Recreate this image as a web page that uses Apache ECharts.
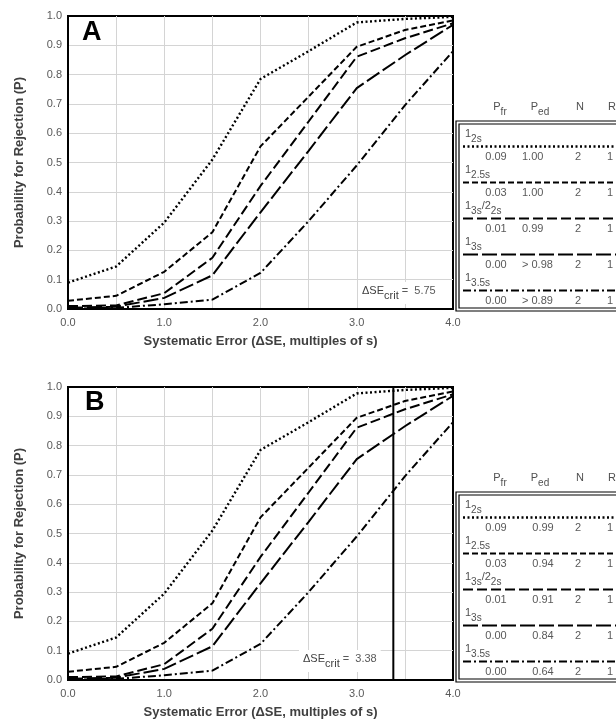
<!DOCTYPE html>
<html><head><meta charset="utf-8">
<script src="https://cdn.jsdelivr.net/npm/echarts@6/dist/echarts.min.js"></script>
<style>html,body{margin:0;padding:0;background:#fff}#chart{width:616px;height:721px}</style>
</head><body><div id="chart"></div>
<script>
// ---- data ----
const xValues  = [0, 0.5, 1.0, 1.5, 2.0, 2.5, 3.0, 3.5, 4.0];
const p12s     = [0.090, 0.145, 0.295, 0.510, 0.785, 0.880, 0.978, 0.990, 0.997];
const p125s    = [0.028, 0.045, 0.127, 0.262, 0.555, 0.725, 0.895, 0.952, 0.985];
const p13s22s  = [0.010, 0.012, 0.054, 0.175, 0.420, 0.640, 0.861, 0.924, 0.975];
const p13s     = [0.004, 0.008, 0.038, 0.115, 0.330, 0.540, 0.754, 0.866, 0.970];
const p135s    = [0.001, 0.004, 0.016, 0.032, 0.123, 0.300, 0.490, 0.695, 0.880];
const ruleLabels = ['{m|1}{s|2s}', '{m|1}{s|2.5s}', '{m|1}{s|3s}{m|/2}{s|2s}', '{m|1}{s|3s}', '{m|1}{s|3.5s}'];
const pfrValues = ['0.09', '0.03', '0.01', '0.00', '0.00'];
const pedA      = ['1.00', '1.00', '0.99', '> 0.98', '> 0.89'];
const pedB      = ['0.99', '0.94', '0.91', '0.84', '0.64'];
const nValues   = ['2', '2', '2', '2', '2'];
const rValues   = ['1', '1', '1', '1', '1'];
const headerLabels = ['{m|P}{s|fr}', '{m|P}{s|ed}', '{m|N}', '{m|R}'];
const panelLetters = ['A', 'B'];
const critValues = ['5.75', '3.38'];
const critLineB = 3.38;
const xTitle = 'Systematic Error (\u0394SE, multiples of s)';
const yTitle = 'Probability for Rejection (P)';

// ---- styling ----
const FONT = '"Liberation Sans", Arial, Helvetica, sans-serif';
const rules = [
  {values: p12s,    dash: [2, 2.5], width: 2.4},
  {values: p125s,   dash: [6, 3],   width: 2},
  {values: p13s22s, dash: [10, 4],  width: 2},
  {values: p13s,    dash: [15, 4],  width: 2},
  {values: p135s,   dash: [8, 3, 2, 3], width: 2}
];
const grids = [
  {left: 68, top: 16, width: 385, height: 293},
  {left: 68, top: 387, width: 385, height: 293}
];

const chart = echarts.init(document.getElementById('chart'));

function xAxis(i) {
  return {
    type: 'value', gridIndex: i, min: 0, max: 4, interval: 0.5,
    name: xTitle, nameLocation: 'middle', nameGap: 26,
    nameTextStyle: {fontFamily: FONT, fontSize: 13, fontWeight: 'bold', color: '#404040'},
    axisLine: {show: true, lineStyle: {color: '#000', width: 2}},
    axisTick: {show: false},
    axisLabel: {margin: 8, color: '#595959', fontSize: 11, fontFamily: FONT,
      formatter: v => (Math.abs(v - Math.round(v)) < 1e-9 ? v.toFixed(1) : '')},
    splitLine: {show: true, showMinLine: false, showMaxLine: false, lineStyle: {color: '#d4d4d4', width: 1}}
  };
}
function yAxis(i) {
  return {
    type: 'value', gridIndex: i, min: 0, max: 1, interval: 0.1,
    name: yTitle, nameLocation: 'middle', nameGap: 42,
    nameTextStyle: {fontFamily: FONT, fontSize: 13, fontWeight: 'bold', color: '#404040'},
    axisLine: {show: true, lineStyle: {color: '#000', width: 2}},
    axisTick: {show: false},
    axisLabel: {margin: 6, color: '#595959', fontSize: 11, fontFamily: FONT, formatter: v => v.toFixed(1)},
    splitLine: {show: true, showMinLine: false, showMaxLine: false, lineStyle: {color: '#d4d4d4', width: 1}}
  };
}

const series = [];
[0, 1].forEach(g => {
  rules.forEach(r => {
    series.push({
      type: 'line', xAxisIndex: g, yAxisIndex: g, symbol: 'none', silent: true,
      data: xValues.map((x, k) => [x, r.values[k]]),
      lineStyle: {color: '#000', width: r.width, type: r.dash, cap: 'butt'}, z: 3
    });
  });
});
series.push({
  type: 'line', xAxisIndex: 1, yAxisIndex: 1, symbol: 'none', silent: true,
  data: [[critLineB, 0], [critLineB, 1]],
  lineStyle: {color: '#000', width: 2, type: 'solid'}, z: 4
});

// measure text for manual sub-script layout
const mctx = document.createElement('canvas').getContext('2d');
function measure(t, size, weight) {
  mctx.font = (weight || 'normal') + ' ' + size + 'px ' + FONT;
  return mctx.measureText(t).width;
}
function parseParts(str) {
  const out = []; const re = /\{(\w)\|([^}]*)\}/g; let m;
  while ((m = re.exec(str))) out.push({kind: m[1], text: m[2]});
  return out;
}
// x = left start, y = baseline-centre of main text; align: 'left' | 'center'
function subText(str, x, y, opts) {
  const o = Object.assign({main: 11, sub: 10, shift: 5, fill: '#505050', subFill: null, align: 'left', z: 53}, opts || {});
  const parts = parseParts(str);
  const widths = parts.map(p => measure(p.text, p.kind === 's' ? o.sub : o.main));
  const total = widths.reduce((a, b) => a + b, 0);
  let cx = o.align === 'center' ? x - total / 2 : x;
  const els = [];
  parts.forEach((p, k) => {
    const isSub = p.kind === 's';
    els.push({type: 'text', z: o.z, x: cx, y: isSub ? y + o.shift : y,
      style: {text: p.text, fontSize: isSub ? o.sub : o.main, fontFamily: FONT,
        fill: p.kind === 'v' ? (o.valueFill || o.fill) : (isSub && o.subFill ? o.subFill : o.fill),
        align: 'left', verticalAlign: 'middle'}});
    cx += widths[k];
  });
  return {els, total};
}

function legendGraphics(top, pedVals, pedX, pedAlign) {
  let els = [];
  const left = 456, right = 650, bottom = top + 190;
  els.push({type: 'rect', z: 50, shape: {x: left, y: top, width: right - left, height: bottom - top},
    style: {fill: '#fff', stroke: '#000', lineWidth: 1.2}});
  els.push({type: 'rect', z: 51, shape: {x: left + 3, y: top + 3, width: right - left - 6, height: bottom - top - 6},
    style: {fill: 'none', stroke: '#000', lineWidth: 1.2}});
  const hx = [500, 540, 580, 612];
  headerLabels.forEach((h, k) => {
    els = els.concat(subText(h, hx[k], top - 14, {align: 'center', shift: 5}).els);
  });
  rules.forEach((r, i) => {
    const ly = top + 25.5 + 36 * i;
    els.push({type: 'line', z: 52, shape: {x1: 463, y1: ly, x2: right, y2: ly},
      style: {stroke: '#000', lineWidth: r.width, lineDash: r.dash}});
    els = els.concat(subText(ruleLabels[i], 465, ly - 13, {shift: 5.5}).els);
    const vy = ly + 10;
    const vstyle = {fontSize: 11, fontFamily: FONT, fill: '#595959', verticalAlign: 'middle'};
    els.push({type: 'text', z: 53, x: 496, y: vy, style: Object.assign({text: pfrValues[i], align: 'center'}, vstyle)});
    els.push({type: 'text', z: 53, x: pedX, y: vy, style: Object.assign({text: pedVals[i], align: pedAlign}, vstyle)});
    els.push({type: 'text', z: 53, x: 578, y: vy, style: Object.assign({text: nValues[i], align: 'center'}, vstyle)});
    els.push({type: 'text', z: 53, x: 610, y: vy, style: Object.assign({text: rValues[i], align: 'center'}, vstyle)});
  });
  return els;
}

function critLabel(val, x, y) {
  const res = subText('{m|\u0394SE}{s|crit}{v| =  ' + val + '}', x, y,
    {main: 11, sub: 11, shift: 5, fill: '#404040', valueFill: '#595959', z: 61});
  const bg = {type: 'rect', z: 60, shape: {x: x - 4, y: y - 9, width: res.total + 8, height: 22},
    style: {fill: '#fff', stroke: 'none'}};
  return [bg].concat(res.els);
}

const graphic = [
  {type: 'text', z: 60, x: 82, y: 33, style: {text: panelLetters[0], fontSize: 27, fontWeight: 'bold', fontFamily: FONT, fill: '#000', align: 'left', verticalAlign: 'middle'}},
  {type: 'text', z: 60, x: 85, y: 403, style: {text: panelLetters[1], fontSize: 27, fontWeight: 'bold', fontFamily: FONT, fill: '#000', align: 'left', verticalAlign: 'middle'}}
].concat(critLabel(critValues[0], 362, 291), critLabel(critValues[1], 303, 659),
  legendGraphics(121, pedA, 522, 'left'), legendGraphics(492, pedB, 543, 'center'));

chart.setOption({
  animation: false,
  backgroundColor: '#fff',
  textStyle: {fontFamily: FONT},
  grid: grids.map(g => Object.assign({show: true, borderColor: '#000', borderWidth: 2, backgroundColor: 'transparent'}, g)),
  xAxis: [xAxis(0), xAxis(1)],
  yAxis: [yAxis(0), yAxis(1)],
  series: series,
  graphic: graphic
});
</script>
</body></html>
